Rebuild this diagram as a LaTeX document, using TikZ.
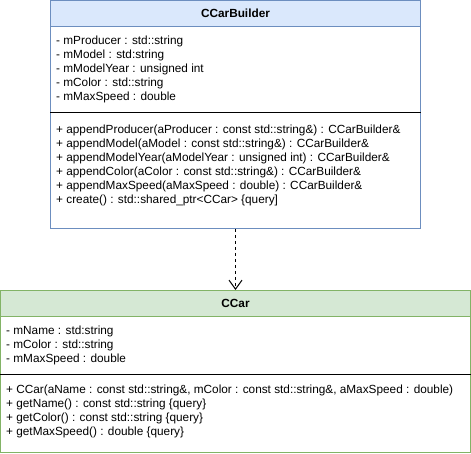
\documentclass[tikz,border=0pt]{standalone}
\usepackage{fontspec}
\setmainfont{Liberation Sans}
\usetikzlibrary{arrows.meta,positioning}
\definecolor{builderfill}{HTML}{DAE8FC}
\definecolor{builderline}{HTML}{6C8EBF}
\definecolor{carfill}{HTML}{D5E8D4}
\definecolor{carline}{HTML}{82B366}

\begin{document}
\begin{tikzpicture}[x=1pt, y=-1pt, every node/.style={font=\fontsize{11.8}{14}\selectfont},
  classbox/.style={draw, line width=1pt, anchor=north west, inner sep=0pt},
  head/.style={classbox, minimum height=26pt, font=\fontsize{11.8}{14}\selectfont\bfseries},
  members/.style={anchor=north west, align=left, inner sep=0pt},
  sep/.style={line width=1pt},
  dep/.style={line width=1pt, dash pattern=on 3pt off 3pt, -{Straight Barb[length=9pt, width=13pt]}}]
\useasboundingbox (0,0) rectangle (471,454);
% builder class
\node[classbox, draw=builderline, minimum width=370pt, minimum height=228pt] (builder) at (50,0) {};
\node[head, draw=builderline, fill=builderfill, minimum width=370pt] (builderhead) at (50,0) {CCarBuilder};
\node[members] (builderattr) at (56,35.5) {- mProducer : std::string\\- mModel : std:string\\- mModelYear : unsigned int\\- mColor : std::string\\- mMaxSpeed : double};
\coordinate (buildersep) at (50,113);
\draw[sep] (buildersep) -- (buildersep -| builder.east);
\node[members] (builderops) at (56,124.5) {+ appendProducer(aProducer : const std::string\&) : CCarBuilder\&\\+ appendModel(aModel : const std::string\&) : CCarBuilder\&\\+ appendModelYear(aModelYear : unsigned int) : CCarBuilder\&\\+ appendColor(aColor : const std::string\&) : CCarBuilder\&\\+ appendMaxSpeed(aMaxSpeed : double) : CCarBuilder\&\\+ create() : std::shared\_ptr<CCar> \{query]};
% car class
\node[classbox, draw=carline, minimum width=470pt, minimum height=162pt] (car) at (0,290) {};
\node[head, draw=carline, fill=carfill, minimum width=470pt] (carhead) at (0,290) {CCar};
\node[members] (carattr) at (6,325.5) {- mName : std:string\\- mColor : std::string\\- mMaxSpeed : double};
\coordinate (carsep) at (0,374);
\draw[sep] (carsep) -- (carsep -| car.east);
\node[members] (carops) at (6,384.5) {+ CCar(aName : const std::string\&, mColor : const std::string\&, aMaxSpeed : double)\\+ getName() : const std::string \{query\}\\+ getColor() : const std::string \{query\}\\+ getMaxSpeed() : double \{query\}};
\draw[dep] (builder) -- (carhead);
\end{tikzpicture}
\end{document}
